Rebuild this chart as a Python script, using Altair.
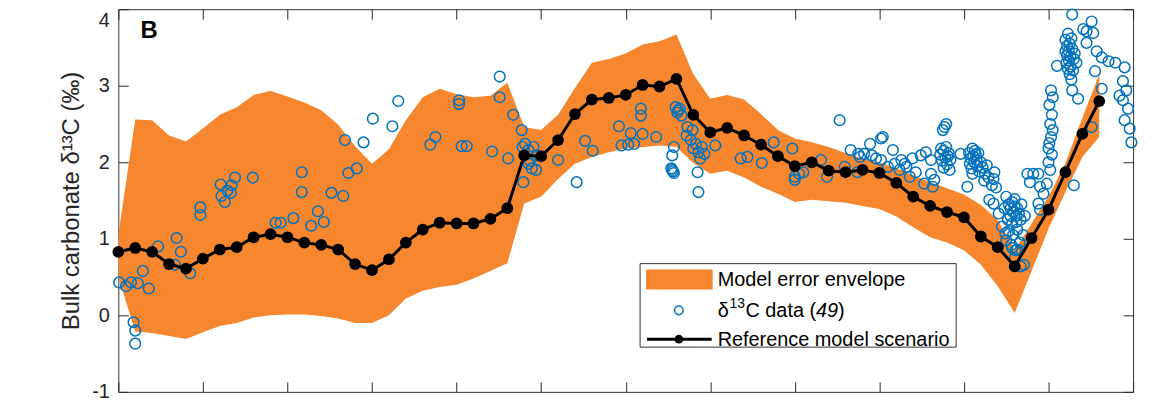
import altair as alt
import pandas as pd

# ---------------- data ----------------
model_x = [0.0, 0.2, 0.4, 0.6, 0.8, 1.0, 1.2, 1.4, 1.6, 1.8,
           2.0, 2.2, 2.4, 2.6, 2.8, 3.0, 3.2, 3.4, 3.6, 3.8,
           4.0, 4.2, 4.4, 4.6, 4.8, 5.0, 5.2, 5.4, 5.6, 5.8,
           6.0, 6.2, 6.4, 6.6, 6.8, 7.0, 7.2, 7.4, 7.6, 7.8,
           8.0, 8.2, 8.4, 8.6, 8.8, 9.0, 9.2, 9.4, 9.6, 9.8,
           10.0, 10.2, 10.4, 10.6, 10.8, 11.0, 11.2, 11.4, 11.6]
model_y = [0.83, 0.88, 0.83, 0.67, 0.61, 0.74, 0.86, 0.89, 1.02, 1.06,
           1.02, 0.95, 0.92, 0.86, 0.67, 0.59, 0.73, 0.95, 1.12, 1.21,
           1.20, 1.20, 1.26, 1.40, 2.09, 2.08, 2.29, 2.63, 2.82, 2.84,
           2.88, 3.01, 2.99, 3.09, 2.62, 2.39, 2.45, 2.35, 2.23, 2.08,
           1.95, 2.00, 1.89, 1.87, 1.90, 1.86, 1.73, 1.55, 1.43, 1.35,
           1.28, 1.03, 0.89, 0.64, 1.01, 1.38, 1.87, 2.37, 2.80]
env_upper = [1.05, 2.56, 2.55, 2.35, 2.27, 2.44, 2.62, 2.72, 2.88, 2.93,
             2.86, 2.78, 2.68, 2.49, 2.21, 1.98, 2.17, 2.55, 2.85, 2.96,
             2.89, 2.85, 2.87, 3.04, 2.46, 2.42, 2.62, 2.97, 3.30, 3.35,
             3.42, 3.54, 3.58, 3.67, 3.15, 2.83, 2.88, 2.82, 2.63, 2.42,
             2.31, 2.26, 2.20, 2.12, 2.05, 2.00, 1.92, 1.83, 1.74, 1.66,
             1.58, 1.44, 1.25, 0.85, 1.20, 1.55, 1.99, 2.58, 3.15]
env_lower = [0.50, -0.21, -0.23, -0.27, -0.31, -0.22, -0.14, -0.10, -0.03, 0.00,
             0.01, 0.01, -0.01, -0.04, -0.10, -0.10, 0.00, 0.22, 0.32, 0.37,
             0.40, 0.48, 0.58, 0.68, 1.46, 1.55, 1.78, 1.98, 2.07, 2.13,
             2.18, 2.20, 2.22, 2.20, 1.99, 1.85, 1.89, 1.80, 1.68, 1.59,
             1.48, 1.51, 1.49, 1.47, 1.43, 1.39, 1.29, 1.15, 1.02, 0.95,
             0.85, 0.66, 0.38, 0.03, 0.58, 1.13, 1.61, 2.07, 2.33]

# d13C observations, region by region
obs_x_a = [0.01, 0.09, 0.15, 0.23, 0.29, 0.36, 0.18, 0.20, 0.20, 0.47, 0.69, 0.74, 0.67, 0.85,
           0.97, 0.97, 1.21, 1.22, 1.26, 1.29, 1.34, 1.38, 1.33, 1.59, 1.86, 1.92, 2.07, 2.17,
           2.17, 2.28, 2.36, 2.43, 2.52, 2.66, 2.68, 2.72, 2.82, 2.90, 3.01, 3.24, 3.31]
obs_y_a = [0.43, 0.38, 0.43, 0.42, 0.58, 0.35, -0.09, -0.20, -0.37, 0.90, 1.01, 0.83, 0.66, 0.55,
           1.41, 1.31, 1.71, 1.56, 1.48, 1.63, 1.70, 1.80, 1.60, 1.80, 1.21, 1.21, 1.27, 1.87,
           1.61, 1.17, 1.36, 1.22, 1.60, 1.56, 2.29, 1.86, 1.92, 2.26, 2.57, 2.47, 2.80]
obs_x_b = [3.69, 3.75, 4.03, 4.03, 4.06, 4.12, 4.42, 4.51, 4.51, 4.61, 4.67, 4.77,
           4.79, 4.81, 4.85, 4.91, 4.94, 4.85, 4.89, 4.94, 4.78, 4.87]
obs_y_b = [2.23, 2.33, 2.81, 2.76, 2.21, 2.21, 2.14, 3.12, 2.85, 2.05, 2.62, 2.42,
           1.74, 2.24, 2.16, 2.20, 2.09, 1.98, 1.92, 1.90, 2.20, 2.02]
obs_x_c = [5.20, 5.42, 5.52, 5.61, 5.92, 5.95, 6.03, 6.06, 6.10, 6.18, 6.18, 6.20, 6.36,
           6.57, 6.55, 6.54, 6.55, 6.57, 6.56, 6.59, 6.61, 6.66, 6.64, 6.62, 6.73, 6.79,
           6.77, 6.83, 6.86, 6.90, 6.93, 6.80, 6.88, 6.85, 6.86, 7.06, 6.72]
obs_y_c = [2.03, 1.74, 2.28, 2.15, 2.47, 2.22, 2.23, 2.38, 2.24, 2.70, 2.61, 2.37, 2.33,
           2.20, 2.09, 1.92, 1.90, 1.86, 1.88, 2.72, 2.65, 2.61, 2.70, 2.68, 2.46, 2.42,
           2.29, 2.24, 2.13, 2.20, 2.11, 2.18, 2.05, 1.87, 1.61, 2.22, 2.35]
obs_x_d = [7.36, 7.44, 7.61, 7.75, 7.97, 8.00, 8.05, 8.10, 8.31, 8.38, 8.53, 8.59, 8.66, 8.74,
           8.75, 8.77, 8.82, 8.89, 8.91, 8.96, 9.02, 9.02, 9.10, 9.16, 9.18, 9.24, 9.26, 9.30,
           9.32, 9.36, 9.39, 9.43, 9.49, 9.55, 9.53, 9.61, 9.63, 9.65, 9.61, 9.04, 8.00]
obs_y_d = [2.05, 2.07, 1.99, 2.26, 2.18, 1.81, 1.85, 1.87, 2.03, 1.81, 2.55, 1.94, 2.16, 1.87,
           2.11, 2.07, 2.11, 2.24, 2.09, 2.05, 2.31, 2.03, 1.94, 2.16, 1.98, 1.90, 2.03, 1.98,
           1.94, 1.81, 2.05, 1.87, 2.09, 2.13, 1.72, 2.03, 1.68, 1.77, 1.85, 2.33, 1.77]
obs_x_e = [9.77, 9.79, 9.75, 9.72, 9.74, 9.76, 9.78, 9.80, 9.82, 9.84, 9.76, 9.79, 9.73, 9.81,
           9.83, 9.96, 10.04, 10.06, 10.08, 10.10, 10.12, 10.14, 10.16, 10.09, 10.11, 10.13,
           10.15, 10.18, 10.07, 10.20, 10.10, 10.17, 10.22, 10.25, 10.27, 10.24, 10.29, 10.33,
           10.36, 10.35, 10.38, 10.30, 10.35, 10.41, 10.45]
obs_y_e = [2.46, 2.50, 2.42, 2.10, 2.02, 2.15, 2.06, 1.97, 2.12, 2.03, 1.93, 2.20, 2.18, 2.08,
           1.90, 2.11, 1.68, 2.12, 2.05, 2.18, 2.00, 2.10, 1.95, 1.92, 2.08, 2.15,
           2.03, 1.88, 1.98, 2.00, 1.85, 2.12, 1.93, 1.85, 1.96, 1.76, 1.80, 1.70,
           1.87, 1.78, 1.67, 1.51, 1.46, 1.33, 1.16]
obs_x_f = [10.50, 10.53, 10.55, 10.57, 10.58, 10.60, 10.62, 10.55, 10.60, 10.63, 10.65, 10.52,
           10.57, 10.62, 10.67, 10.48, 10.68, 10.53, 10.58, 10.63, 10.50, 10.56, 10.61, 10.66,
           10.60, 10.57, 10.67, 10.63, 10.70, 10.72, 10.49, 10.71]
obs_y_f = [1.55, 1.45, 1.40, 1.48, 1.35, 1.42, 1.30, 1.30, 1.52, 1.40, 1.33, 1.25,
           1.20, 1.22, 1.25, 1.40, 1.45, 1.10, 1.05, 1.12, 0.98, 0.92, 0.85, 0.95,
           0.75, 0.88, 0.64, 0.86, 1.05, 1.30, 1.07, 0.66]
obs_x_g = [10.75, 10.82, 10.78, 10.88, 10.90, 10.90, 10.98, 11.00, 11.00, 11.03, 11.05, 11.01,
           11.04, 11.02, 11.05, 11.03, 11.01, 11.04, 11.02, 10.94, 10.88]
obs_y_g = [1.85, 1.85, 1.74, 1.85, 1.68, 1.38, 1.72, 2.00, 2.18, 2.94, 2.85, 2.75,
           2.62, 2.50, 2.42, 2.33, 2.25, 2.10, 1.90, 1.59, 1.46]
obs_x_h = [11.10, 11.28, 11.20, 11.22, 11.24, 11.26, 11.21, 11.23, 11.25, 11.27, 11.22, 11.25,
           11.28, 11.30, 11.26, 11.23, 11.29, 11.31, 11.20, 11.27, 11.33, 11.24, 11.28, 11.35,
           11.30, 11.45, 11.51, 11.53, 11.45, 11.57, 11.55, 11.63, 11.51, 11.71, 11.79, 11.90,
           11.88, 11.92, 11.88, 11.94, 11.90, 11.96, 11.98, 11.41, 11.63, 11.84]
obs_y_h = [3.26, 3.93, 3.60, 3.52, 3.45, 3.38, 3.30, 3.22, 3.15, 3.08, 3.40, 3.55,
           3.48, 3.35, 3.25, 3.68, 3.20, 3.42, 3.45, 3.62, 3.30, 3.33, 2.94, 2.83,
           1.70, 3.71, 3.84, 3.69, 3.56, 3.45, 3.19, 2.96, 2.46, 3.32, 3.30, 3.24,
           3.06, 2.94, 2.81, 2.70, 2.55, 2.44, 2.26, 3.74, 3.37, 2.87]

obs_x = obs_x_a + obs_x_b + obs_x_c + obs_x_d + obs_x_e + obs_x_f + obs_x_g + obs_x_h
obs_y = obs_y_a + obs_y_b + obs_y_c + obs_y_d + obs_y_e + obs_y_f + obs_y_g + obs_y_h

x_ticks = [0, 1, 2, 3, 4, 5, 6, 7, 8, 9, 10, 11, 12]
y_ticks = [-1, 0, 1, 2, 3, 4]

y_title = "Bulk carbonate δ¹³C (‰)"
legend_labels = ["Model error envelope", "Reference model scenario"]

# ---------------- styling ----------------
FONT = "Liberation Sans"
AXC = "#262626"
ORANGE = "#F7872F"
BLUE = "#0072BD"

env_df = pd.DataFrame({"x": model_x, "upper": env_upper, "lower": env_lower})
model_df = pd.DataFrame({"x": model_x, "y": model_y})
obs_df = pd.DataFrame({"x": obs_x, "y": obs_y})
one = pd.DataFrame({"k": [0]})

xscale = alt.Scale(domain=[0, 12], nice=False, zero=False)
yscale = alt.Scale(domain=[-1, 4], nice=False, zero=False)
inward = dict(domain=False, grid=False, tickSize=10, offset=-10, tickColor=AXC, tickWidth=1)

envelope = alt.Chart(env_df).mark_area(color=ORANGE, opacity=1).encode(
    x=alt.X("x:Q", scale=xscale,
            axis=alt.Axis(orient="bottom", values=x_ticks, labels=False, title=None, **inward)),
    y=alt.Y("upper:Q", scale=yscale,
            axis=alt.Axis(orient="left", values=y_ticks, labelFont=FONT, labelFontSize=20,
                          labelColor=AXC, labelPadding=9,
                          labelExpr="datum.value + ''",
                          labelOffset={"condition": {"test": "datum.value == 4", "value": 11},
                                       "value": 0},
                          title=y_title, titleFont=FONT,
                          titleFontSize=24, titleFontWeight="normal", titleColor=AXC,
                          titlePadding=8, **inward)),
    y2="lower:Q",
)

scatter = alt.Chart(obs_df).mark_point(shape="circle", filled=False, size=115, strokeWidth=1.5,
                                       color=BLUE, opacity=1).encode(
    x=alt.X("x:Q", scale=xscale,
            axis=alt.Axis(orient="top", values=x_ticks, labels=False, title=None, **inward)),
    y=alt.Y("y:Q", scale=yscale,
            axis=alt.Axis(orient="right", values=y_ticks, labels=False, title=None, **inward)),
)

line = alt.Chart(model_df).mark_line(color="black", strokeWidth=3).encode(
    x=alt.X("x:Q", scale=xscale, axis=None),
    y=alt.Y("y:Q", scale=yscale, axis=None),
)
dots = alt.Chart(model_df).mark_point(shape="circle", filled=True, size=140, color="black",
                                      opacity=1).encode(
    x=alt.X("x:Q", scale=xscale, axis=None),
    y=alt.Y("y:Q", scale=yscale, axis=None),
)

# ---------------- legend (drawn by hand) ----------------
box = alt.Chart(one).mark_rect(fill="white", stroke="#333333", strokeWidth=1).encode(
    x=alt.value(525), x2=alt.value(843), y=alt.value(256), y2=alt.value(340))
swatch = alt.Chart(one).mark_rect(fill=ORANGE).encode(
    x=alt.value(531), x2=alt.value(598), y=alt.value(262), y2=alt.value(282))
leg_circle = alt.Chart(one).mark_point(shape="circle", filled=False, size=75, strokeWidth=1.5,
                                       color=BLUE, opacity=1).encode(
    x=alt.value(564), y=alt.value(303))
leg_line = alt.Chart(one).mark_rule(color="black", strokeWidth=3).encode(
    x=alt.value(532), x2=alt.value(597), y=alt.value(332))
leg_dot = alt.Chart(one).mark_point(shape="circle", filled=True, size=75, color="black",
                                    opacity=1).encode(
    x=alt.value(564), y=alt.value(332))


def txt(s, x, y, size=20, style="normal", weight="normal", align="left"):
    return alt.Chart(one).mark_text(align=align, baseline="middle", font=FONT, fontSize=size,
                                    fontStyle=style, fontWeight=weight, color="black").encode(
        x=alt.value(x), y=alt.value(y), text=alt.value(s))


texts = [
    txt(legend_labels[0], 603, 272),
    txt("δ", 603, 304),
    txt("13", 615, 297, size=14),
    txt("C data (", 631, 304),
    txt("49", 702, 304, style="italic"),
    txt(")", 724, 304),
    txt(legend_labels[1], 603, 333),
    txt("B", 31, 22, size=24, weight="bold", align="center"),
]

chart = alt.layer(envelope, scatter, line, dots, box, swatch, leg_circle, leg_line, leg_dot,
                  *texts).resolve_axis(x="independent", y="independent").properties(
    width=1021, height=385,
    autosize=alt.AutoSizeParams(type="none"),
    padding={"left": 111, "top": 0, "right": 12, "bottom": 10},
).configure_view(stroke="#333333", strokeWidth=1).configure_axis(grid=False)

chart.save("out.html", embed_options={"renderer": "svg", "actions": False})
